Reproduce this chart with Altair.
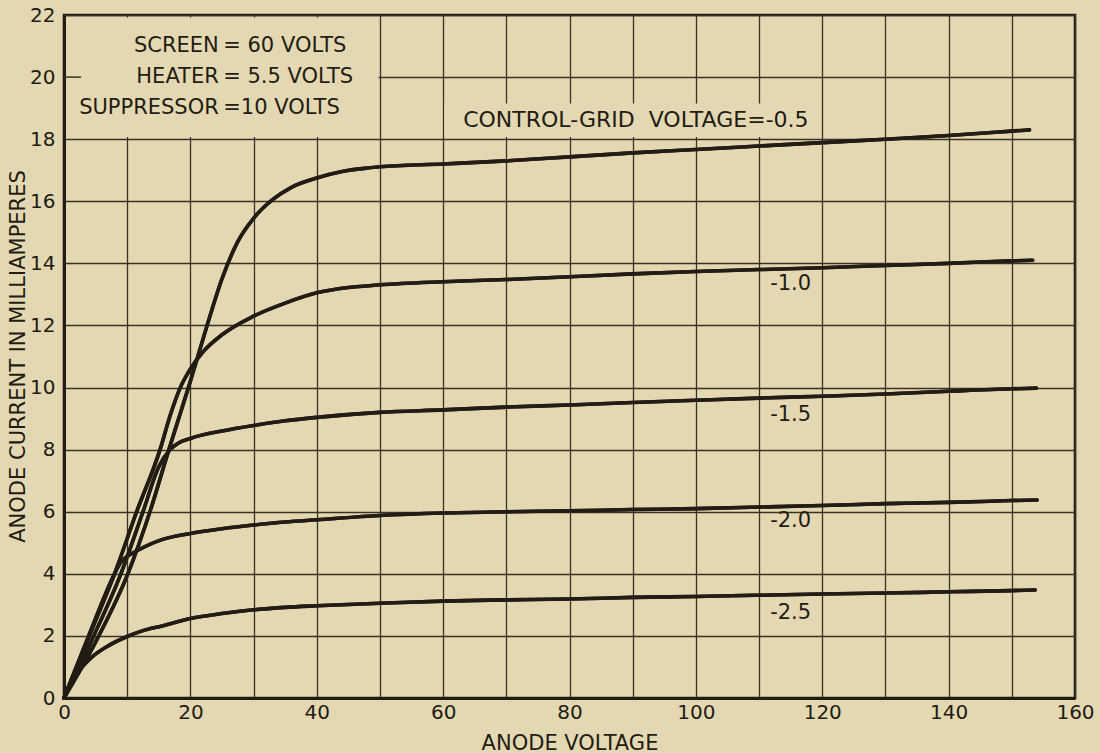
import altair as alt
import pandas as pd

BG = "#e3d8b2"
INK = "#221c14"
GRIDC = "#3a3224"
FONT = "DejaVu Sans"

# ---- curve data (anode voltage, anode current mA) ----
G05_X = [0, 5.5, 10.1, 13.6, 16.6, 18.3, 20, 22.5, 25, 27.5, 30, 33, 36, 40, 44, 48, 50, 60, 70, 80, 90, 100, 110, 120, 130, 140, 150, 152.8]
G05_Y = [0, 2.0, 4.0, 6.0, 8.0, 9.1, 10.2, 11.9, 13.5, 14.7, 15.45, 16.05, 16.45, 16.75, 16.96, 17.07, 17.11, 17.2, 17.3, 17.43, 17.56, 17.67, 17.78, 17.89, 18.0, 18.12, 18.26, 18.3]

G10_X = [0, 4.0, 8.0, 11.5, 15.2, 16.8, 18.3, 20, 22, 25, 30, 35, 40, 45, 50, 60, 70, 80, 90, 100, 110, 120, 130, 140, 150, 153.3]
G10_Y = [0, 2.0, 4.0, 6.0, 8.0, 9.1, 9.95, 10.6, 11.15, 11.7, 12.3, 12.72, 13.05, 13.22, 13.31, 13.41, 13.48, 13.57, 13.66, 13.74, 13.8, 13.86, 13.93, 14.0, 14.08, 14.1]

G15_X = [0, 4.7, 9.0, 12.5, 15.0, 16.8, 18, 20, 25, 30, 35, 40, 50, 60, 70, 80, 90, 100, 110, 120, 130, 140, 150, 153.9]
G15_Y = [0, 2.0, 4.0, 6.0, 7.45, 8.0, 8.2, 8.36, 8.6, 8.78, 8.93, 9.04, 9.2, 9.28, 9.37, 9.44, 9.52, 9.59, 9.66, 9.72, 9.79, 9.88, 9.96, 9.98]

G20_X = [0, 3.9, 8.0, 9.0, 10, 11.7, 13.5, 15.5, 20, 25, 30, 35, 40, 50, 60, 70, 80, 90, 100, 110, 120, 130, 140, 150, 154]
G20_Y = [0, 2.0, 4.0, 4.38, 4.56, 4.76, 4.94, 5.1, 5.3, 5.45, 5.57, 5.67, 5.74, 5.88, 5.96, 6.0, 6.03, 6.07, 6.1, 6.15, 6.2, 6.26, 6.3, 6.36, 6.38]

G25_X = [0, 1.0, 2.5, 4.5, 7.0, 10, 12.5, 15.5, 20, 25, 30, 35, 40, 50, 60, 70, 80, 90, 100, 110, 120, 130, 140, 150, 153.7]
G25_Y = [0, 0.42, 0.9, 1.33, 1.68, 1.98, 2.17, 2.32, 2.56, 2.72, 2.84, 2.92, 2.97, 3.05, 3.12, 3.16, 3.19, 3.24, 3.27, 3.31, 3.35, 3.38, 3.42, 3.46, 3.48]

CURVE_NAMES = ["-0.5", "-1.0", "-1.5", "-2.0", "-2.5"]
CURVES_X = [G05_X, G10_X, G15_X, G20_X, G25_X]
CURVES_Y = [G05_Y, G10_Y, G15_Y, G20_Y, G25_Y]

# ---- labels ----
CURVE_LABELS = ["-1.0", "-1.5", "-2.0", "-2.5"]
CURVE_LABEL_X = [115, 115, 115, 115]
CURVE_LABEL_Y = [13.32, 9.1, 5.69, 2.74]

TOP_LABEL = ["CONTROL-GRID\u00a0 VOLTAGE=-0.5"]
TOP_LABEL_X = [90.5]
TOP_LABEL_Y = [18.62]

BOX_NAMES = ["SCREEN", "HEATER", "SUPPRESSOR"]
BOX_VALUES = ["= 60 VOLTS", "= 5.5 VOLTS", "=10 VOLTS"]
BOX_Y = [21.0, 20.0, 19.0]
BOX_SPLIT = [24.5, 25.2]

# blank (un-ruled) areas of the chart paper
MASK_X0 = [0.35, 60.25]
MASK_X1 = [49.8, 119.75]
MASK_Y0 = [18.07, 18.07]
MASK_Y1 = [21.92, 19.15]

X_TICKS = list(range(0, 161, 10))
Y_TICKS = list(range(0, 23, 2))

rows = []
for name, xs_, ys_ in zip(CURVE_NAMES, CURVES_X, CURVES_Y):
    for xv, yv in zip(xs_, ys_):
        rows.append({"grid": name, "v": xv, "i": yv})
df = pd.DataFrame(rows)

xs = alt.Scale(domain=[0, 160], nice=False, zero=False)
ys = alt.Scale(domain=[0, 22], nice=False, zero=False)

x_axis = alt.Axis(
    values=X_TICKS,
    labelExpr="datum.value % 20 == 0 ? datum.label : ''",
    grid=True, gridColor=GRIDC, gridWidth=1.3, gridOpacity=1,
    ticks=False, domain=True, domainColor=INK, domainWidth=3,
    labelFont=FONT, labelFontSize=20, labelColor=INK, labelPadding=14,
    labelBaseline="middle", labelFlush=False, labelOverlap=False,
    title="ANODE VOLTAGE", titleFont=FONT, titleFontSize=21, titleFontWeight="normal",
    titleColor=INK, titleY=45, titleBaseline="middle",
)
y_axis = alt.Axis(
    values=Y_TICKS,
    grid=True, gridColor=GRIDC, gridWidth=1.3, gridOpacity=1,
    ticks=False, domain=True, domainColor=INK, domainWidth=3,
    labelFont=FONT, labelFontSize=20, labelColor=INK, labelPadding=9,
    labelAlign="right", labelBaseline="middle", labelFlush=False, labelOverlap=False,
    title="ANODE CURRENT IN MILLIAMPERES", titleFont=FONT, titleFontSize=21,
    titleFontWeight="normal", titleColor=INK, titleAngle=270,
    titleX=-46, titleY=341, titleBaseline="middle", titleAlign="center",
)

lines = alt.Chart(df).mark_line(
    color=INK, strokeWidth=3.6, interpolate="monotone", strokeCap="round"
).encode(
    x=alt.X("v:Q", scale=xs, axis=x_axis),
    y=alt.Y("i:Q", scale=ys, axis=y_axis),
    detail="grid:N",
)

mask_df = pd.DataFrame({"x0": MASK_X0, "x1": MASK_X1, "y0": MASK_Y0, "y1": MASK_Y1})
masks = alt.Chart(mask_df).mark_rect(color=BG, opacity=1).encode(
    x=alt.X("x0:Q", scale=xs), x2="x1:Q",
    y=alt.Y("y0:Q", scale=ys), y2="y1:Q",
)

stub = alt.Chart(pd.DataFrame({"a": [0], "b": [2.7], "y": [20]})).mark_rule(
    color=GRIDC, strokeWidth=1.5
).encode(x=alt.X("a:Q", scale=xs), x2="b:Q", y=alt.Y("y:Q", scale=ys))

lab_df = pd.DataFrame({"t": CURVE_LABELS, "x": CURVE_LABEL_X, "y": CURVE_LABEL_Y})
curve_labels = alt.Chart(lab_df).mark_text(
    font=FONT, fontSize=21, color=INK, align="center", baseline="middle"
).encode(x=alt.X("x:Q", scale=xs), y=alt.Y("y:Q", scale=ys), text="t:N")

top_df = pd.DataFrame({"t": TOP_LABEL, "x": TOP_LABEL_X, "y": TOP_LABEL_Y})
top_label = alt.Chart(top_df).mark_text(
    font=FONT, fontSize=22, color=INK, align="center", baseline="middle"
).encode(x=alt.X("x:Q", scale=xs), y=alt.Y("y:Q", scale=ys), text="t:N")

box_df = pd.DataFrame({"n": BOX_NAMES, "val": BOX_VALUES, "y": BOX_Y,
                       "xn": [BOX_SPLIT[0]] * 3, "xv": [BOX_SPLIT[1]] * 3})
box_names = alt.Chart(box_df).mark_text(
    font=FONT, fontSize=21, color=INK, align="right", baseline="middle"
).encode(x=alt.X("xn:Q", scale=xs), y=alt.Y("y:Q", scale=ys), text="n:N")
box_vals = alt.Chart(box_df).mark_text(
    font=FONT, fontSize=21, color=INK, align="left", baseline="middle"
).encode(x=alt.X("xv:Q", scale=xs), y=alt.Y("y:Q", scale=ys), text="val:N")

chart = alt.layer(
    lines, masks, stub, lines, curve_labels, top_label, box_names, box_vals
).properties(
    width=1011, height=683,
    background=BG,
    padding={"left": 64, "top": 15, "right": 25, "bottom": 55},
    autosize=alt.AutoSizeParams(type="none"),
).configure_view(
    stroke=INK, strokeWidth=2.6, fill=BG
)

chart.save("out.html", embed_options={"renderer": "svg", "actions": False})
